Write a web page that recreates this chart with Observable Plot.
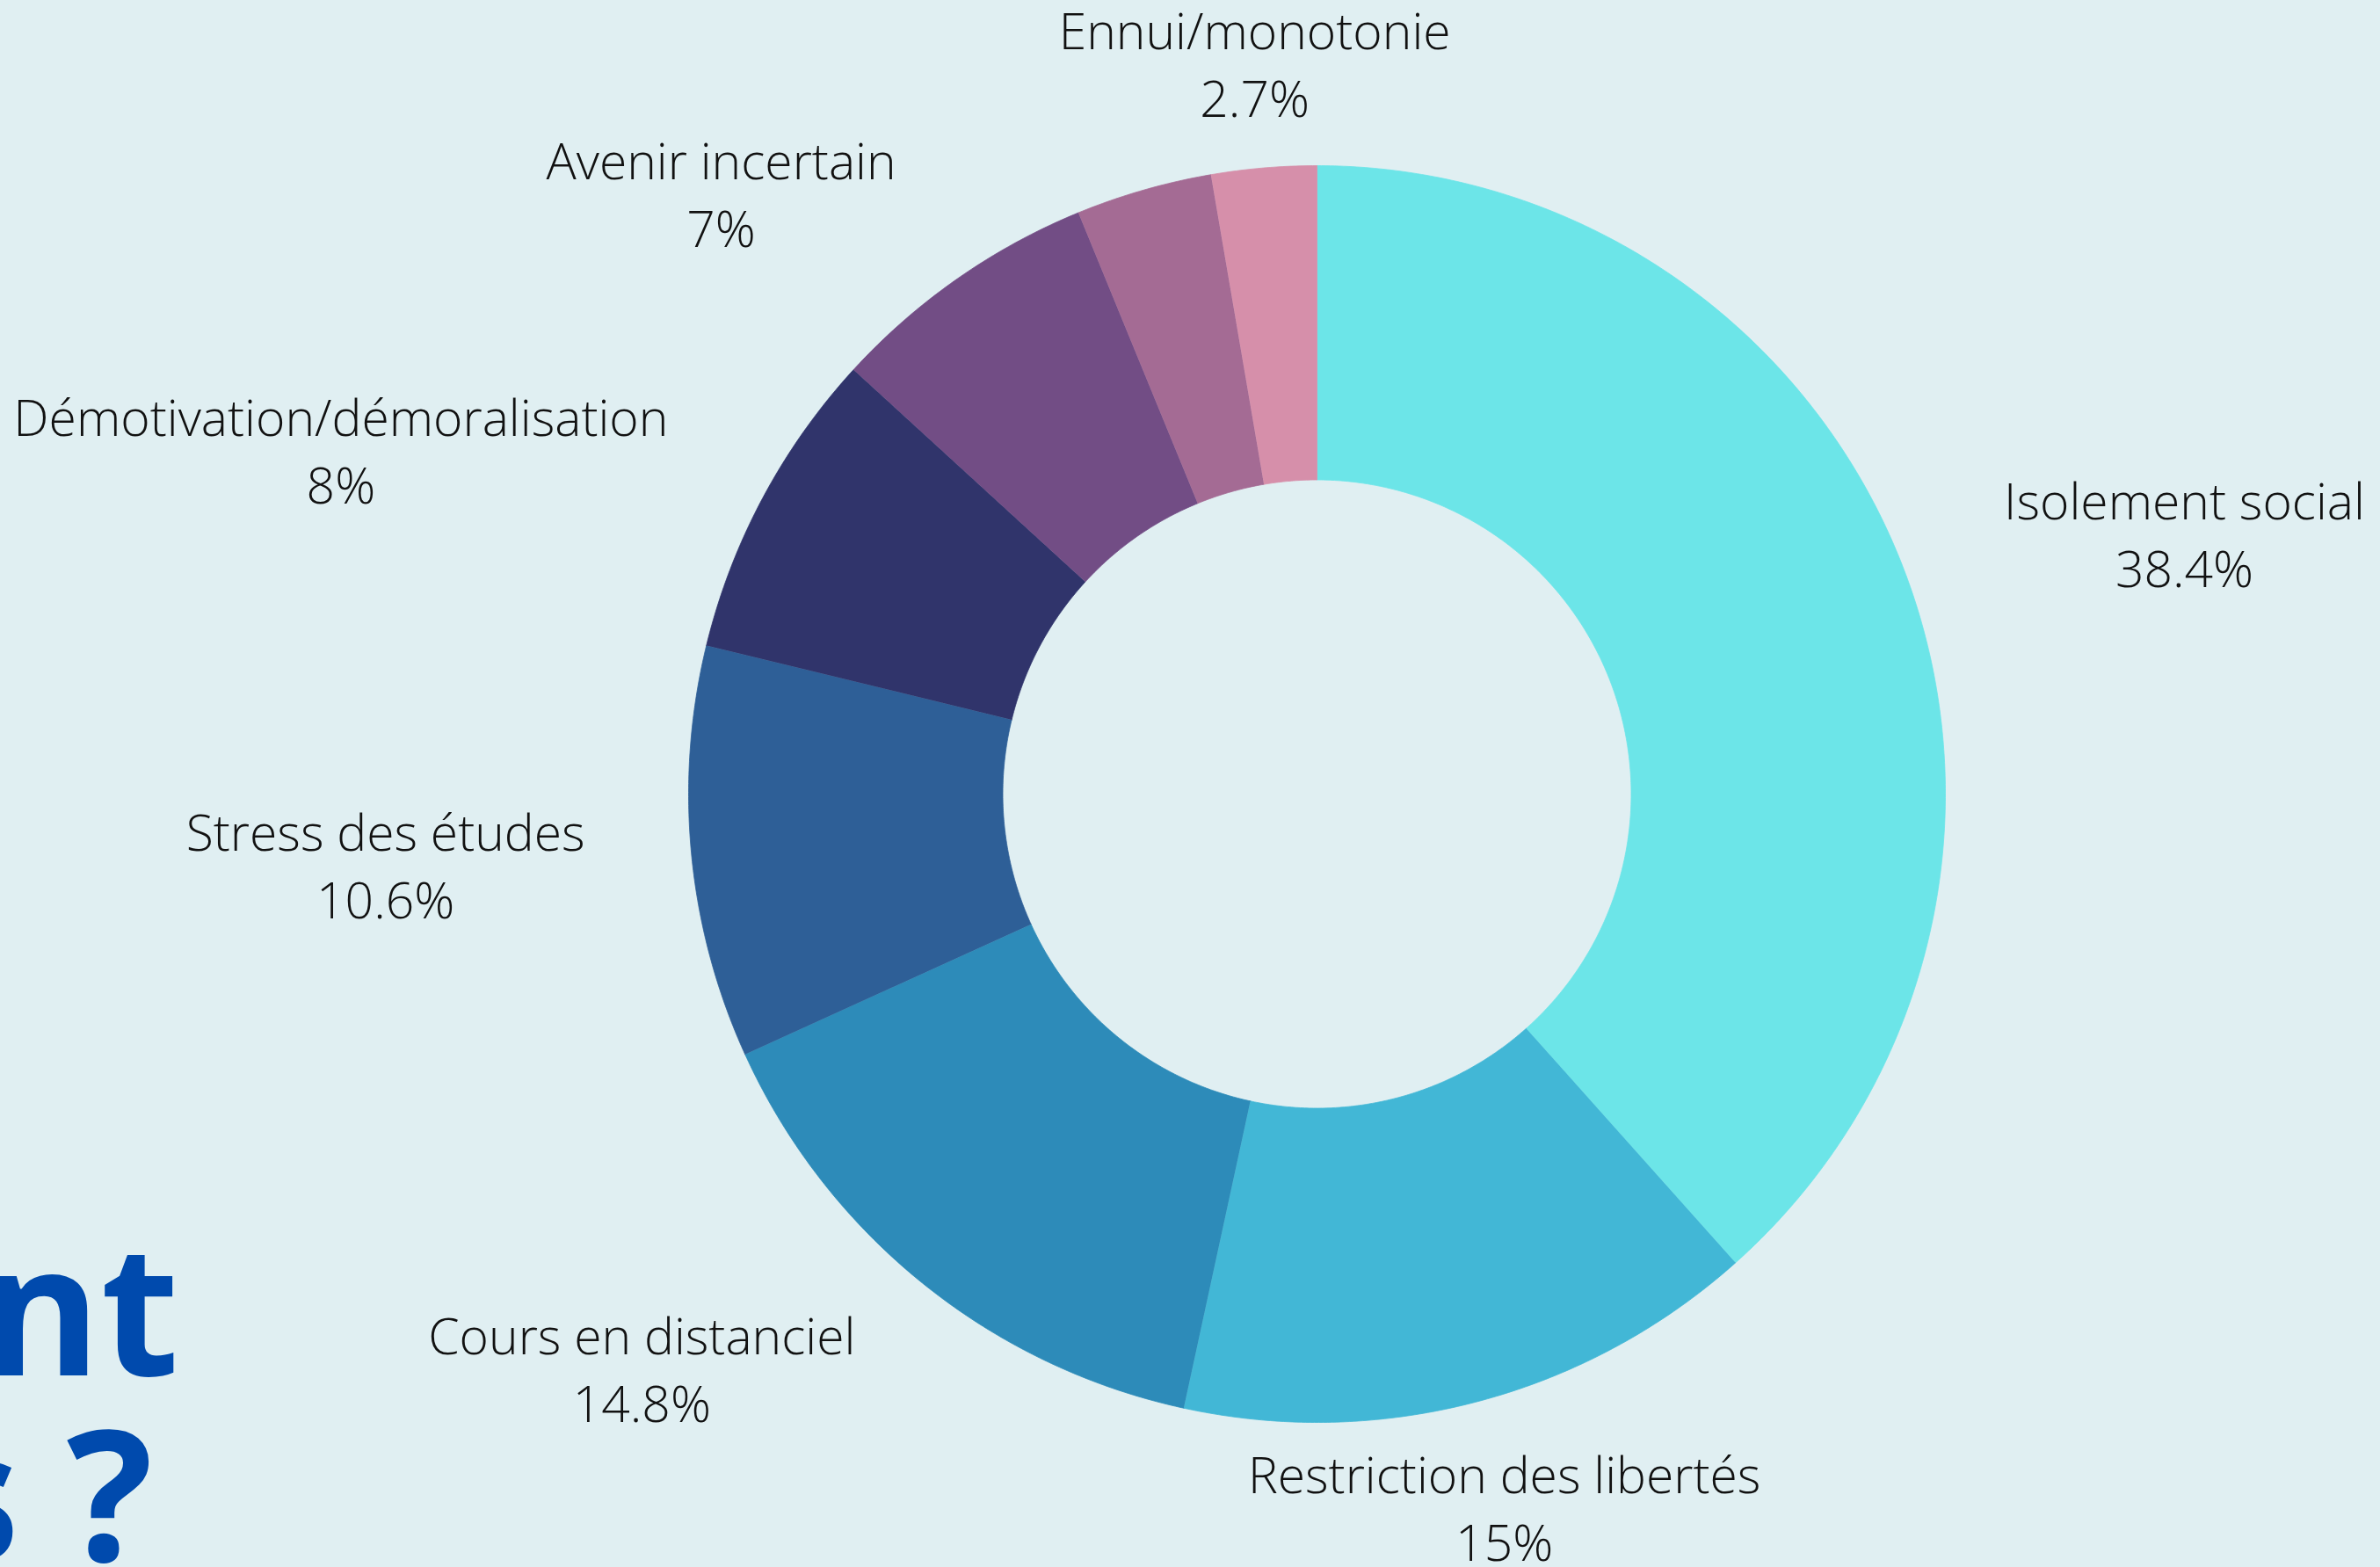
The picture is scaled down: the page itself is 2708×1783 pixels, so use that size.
<!DOCTYPE html>
<html>
<head>
<meta charset="utf-8">
<script src="https://cdn.jsdelivr.net/npm/d3@7"></script>
<script src="https://cdn.jsdelivr.net/npm/@observablehq/plot@0.6"></script>
<style>
  html, body { margin: 0; padding: 0; }
  body { width: 2708px; height: 1783px; overflow: hidden; position: relative; background: #e0eff2; }
  #chart { position: absolute; left: 0; top: 0; }
  .title { position: absolute; font-family: "Open Sans", sans-serif; font-weight: 700; font-size: 206px;
           line-height: 0.8; color: #004aad; white-space: nowrap; }
</style>
</head>
<body>
<div id="chart"></div>
<div class="title" style="right: 2504px; top: 1403px;">nt</div>
<div class="title" style="right: 2534px; top: 1614px;">s ?</div>
<script>
// ---- data ----
const categories = ["Isolement social", "Restriction des libertés", "Cours en distanciel", "Stress des études",
                    "Démotivation/démoralisation", "Avenir incertain", "Autre", "Ennui/monotonie"];
const values = [38.4, 15, 14.8, 10.6, 8, 7, 3.5, 2.7];
const showLabel = [true, true, true, true, true, true, false, true];
const colors = ["#6ce5e8", "#42b7d6", "#2d8bb9", "#2e5f97", "#30346b", "#724d85", "#a46b94", "#d68faa"];

// ---- layout ----
const W = 2708, H = 1783;
const cx = 1498, cy = 903, R = 715;  // pixel centre and outer radius
const inner = 0.5, labelR = 1.17;
const fontSize = 57, fontWeight = 300, fontFamily = "Open Sans";

const rows = categories.map((name, i) => ({name, value: values[i], show: showLabel[i]}));
const arcs = d3.pie().sort(null).value(d => d.value)(rows);

// polygon points for each slice (in units of the outer radius)
const pts = [];
for (const a of arcs) {
  const n = Math.max(8, Math.ceil((a.endAngle - a.startAngle) / (2 * Math.PI) * 900));
  for (let k = 0; k <= n; k++) {
    const t = a.startAngle + (a.endAngle - a.startAngle) * k / n;
    pts.push({name: a.data.name, x: Math.sin(t), y: Math.cos(t)});
  }
  for (let k = n; k >= 0; k--) {
    const t = a.startAngle + (a.endAngle - a.startAngle) * k / n;
    pts.push({name: a.data.name, x: inner * Math.sin(t), y: inner * Math.cos(t)});
  }
}

// label blocks: lines centred within a block; the block's near edge sits on the label anchor
const ctx = document.createElement("canvas").getContext("2d");
ctx.font = `${fontWeight} ${fontSize}px '${fontFamily}'`;
const labels = arcs.filter(a => a.data.show).map(a => {
  const m = (a.startAngle + a.endAngle) / 2;
  const lines = [a.data.name, a.data.value + "%"];
  const halfW = Math.max(...lines.map(l => ctx.measureText(l).width)) / 2 / R;
  const s = Math.sin(m);
  const shift = s > 0.3 ? halfW : s < -0.3 ? -halfW : 0;
  return {name: a.data.name, text: lines.join("\n"), x: labelR * s + shift, y: labelR * Math.cos(m)};
});

const chart = Plot.plot({
  width: W, height: H, margin: 0,
  x: {domain: [-cx / R, (W - cx) / R], axis: null},
  y: {domain: [-(H - cy) / R, cy / R], axis: null},
  color: {domain: categories, range: colors},
  style: {background: "transparent", fontFamily},
  marks: [
    Plot.line(pts, {x: "x", y: "y", z: "name", fill: "name", stroke: "name", strokeWidth: 0.8}),
    Plot.text(labels, {x: "x", y: "y", text: "text", fontSize, fontWeight, lineHeight: 1.35,
                       lineAnchor: "middle", textAnchor: "middle", fill: "#111111", fontFamily})
  ]
});
document.getElementById("chart").append(chart);
</script>
</body>
</html>
